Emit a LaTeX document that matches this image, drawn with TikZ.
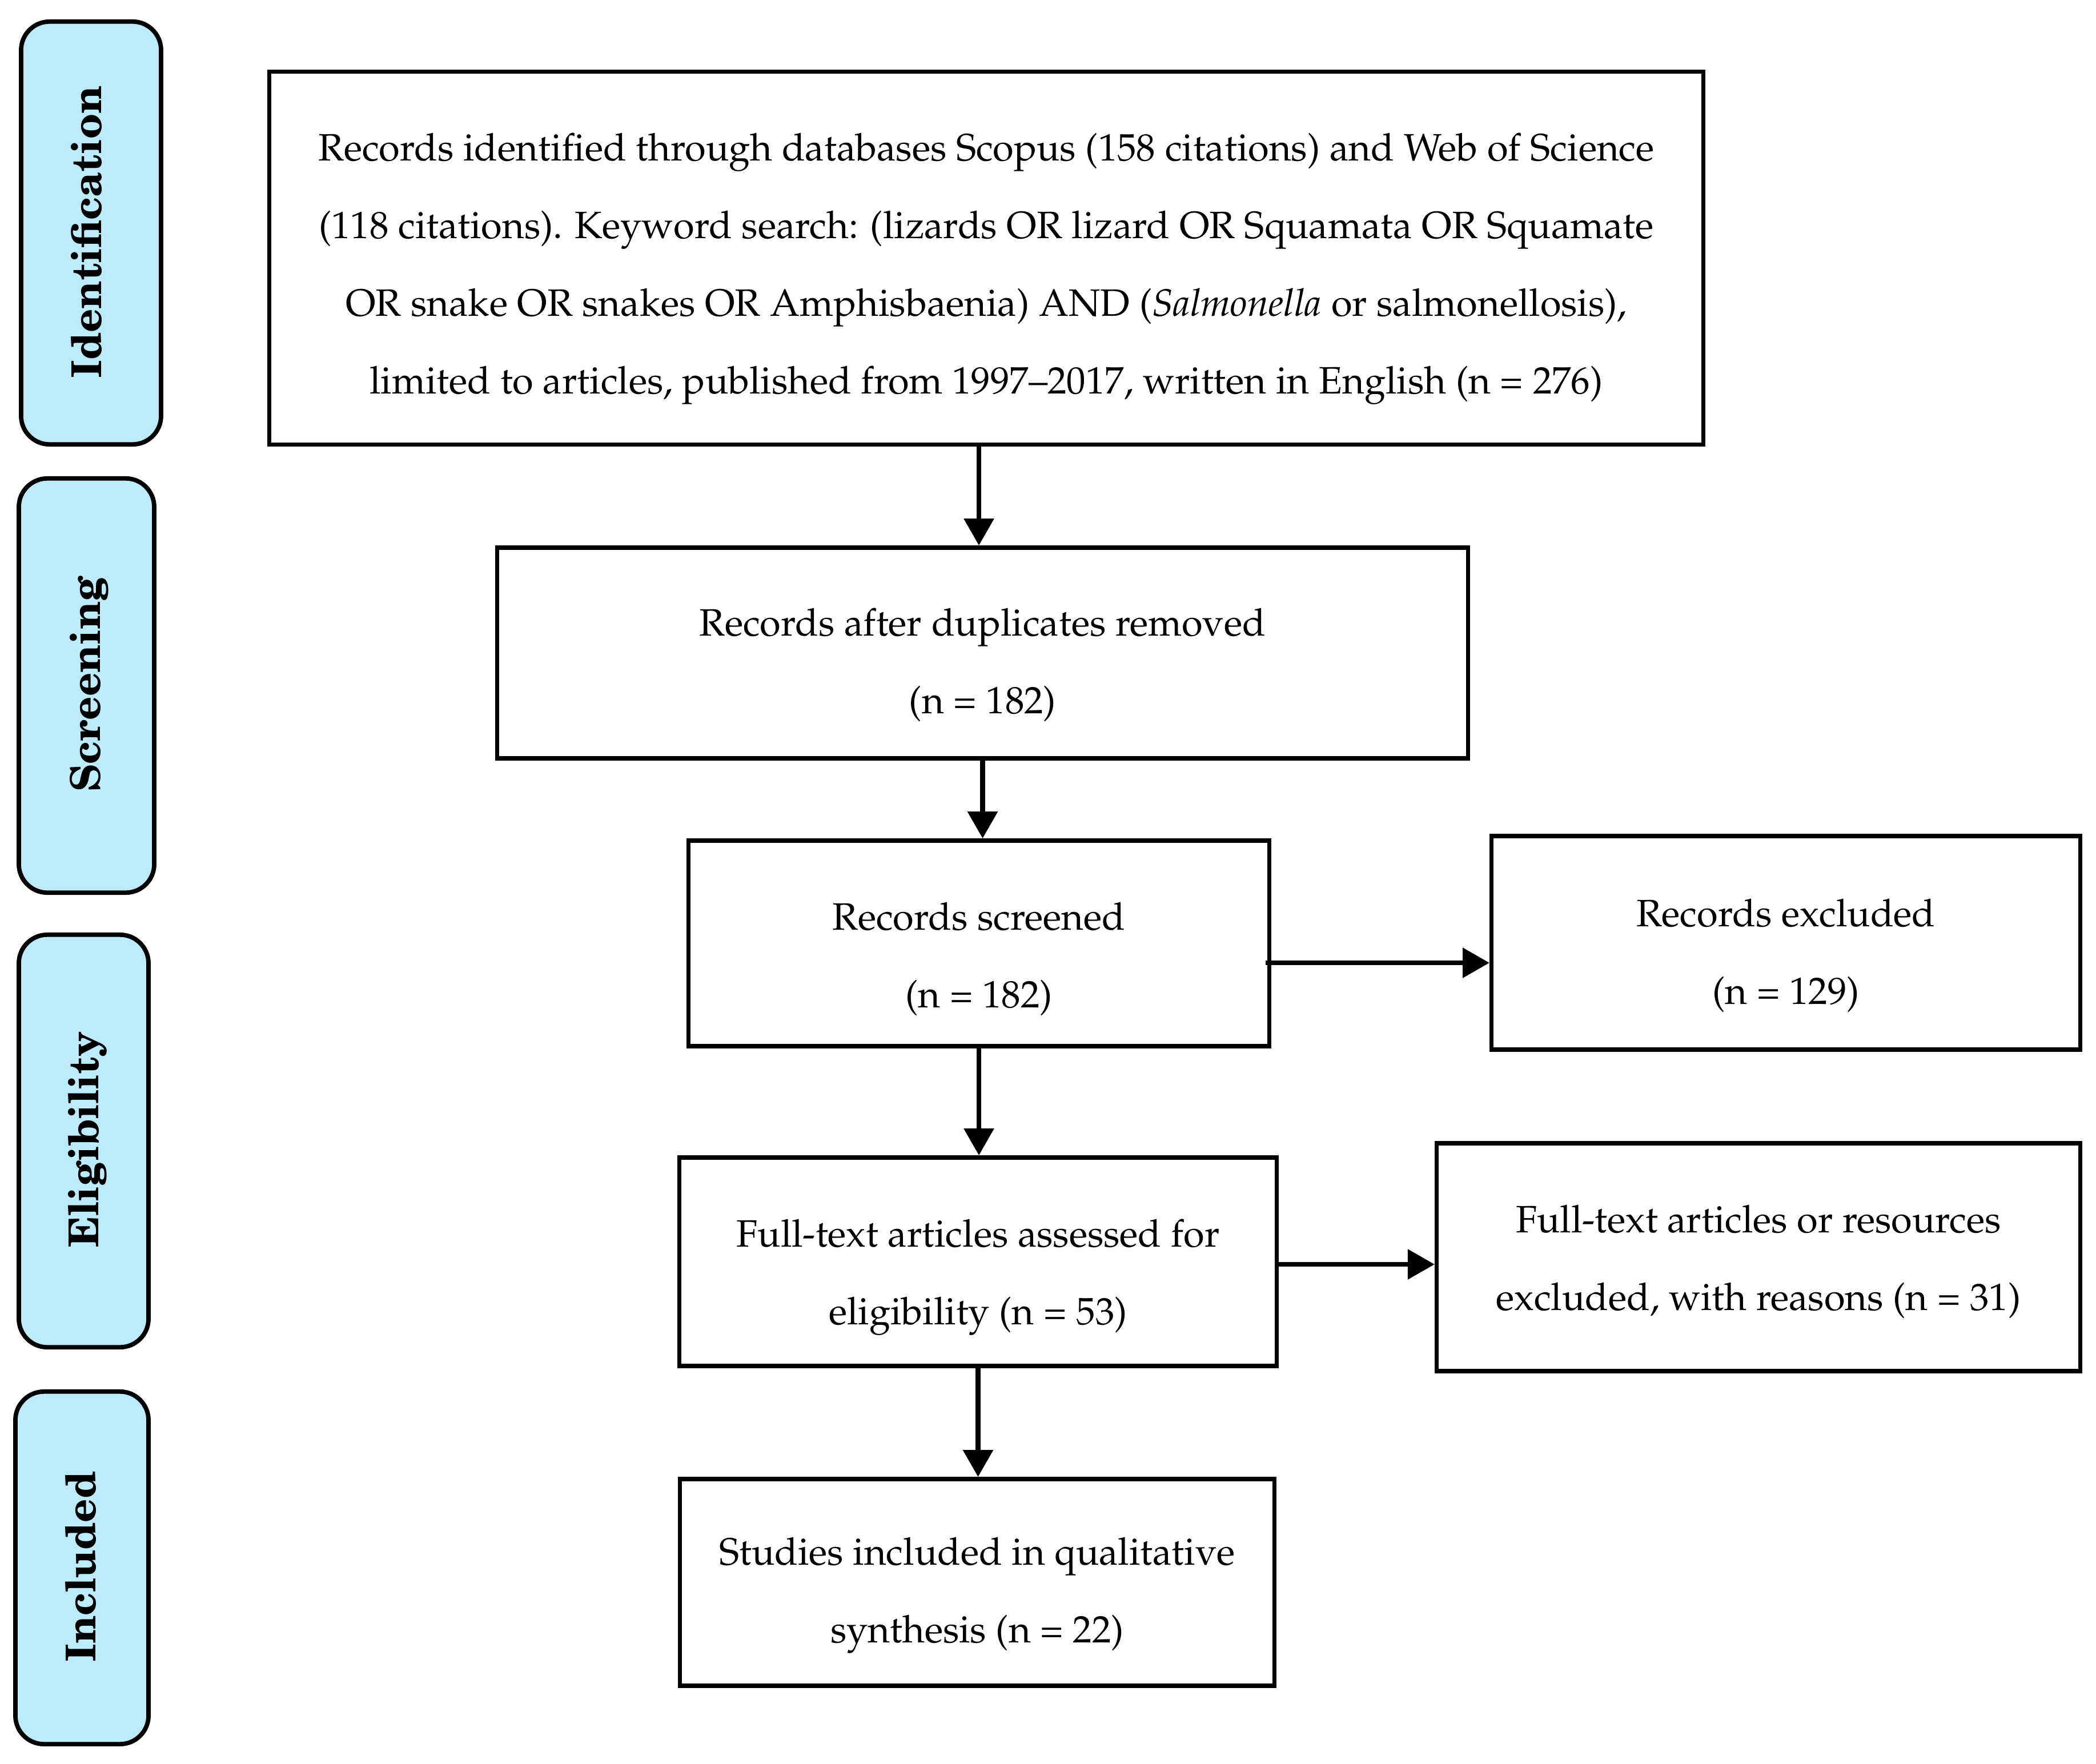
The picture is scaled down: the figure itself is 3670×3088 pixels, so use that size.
\documentclass[tikz,border=0pt]{standalone}
\usepackage[T1]{fontenc}
\usetikzlibrary{arrows.meta,calc}
\definecolor{lblue}{RGB}{190,235,252}
\tikzset{
 phase/.style={draw=black, line width=2.2pt, fill=lblue, rounded corners=0.5cm, inner sep=0pt, rectangle},
 phasetext/.style={rotate=90, anchor=base, inner sep=0pt, font=\fontfamily{pnc}\fontsize{20.5}{24}\bfseries},
 box/.style={draw=black, line width=2.1pt, inner sep=0pt, rectangle},
 btext/.style={align=center, inner sep=0pt, font=\fontfamily{ppl}\fontsize{19.0}{38.7}\selectfont},
 arr/.style={line width=2.5pt, -{Triangle[length=0.47cm,width=0.51cm]}},
}
\begin{document}
\begin{tikzpicture}[x=0.01cm,y=-0.01cm]
\useasboundingbox (0,0) rectangle (3670,3088);
% phase labels
\node[phase, minimum width=2.45cm, minimum height=7.40cm] (pI) at (159.5,408) {};
\node[phasetext] (tI) at (177,406.5) {Identification};
\node[phase, minimum width=2.37cm, minimum height=7.25cm] (pS) at (151.5,1200.5) {};
\node[phasetext] (tS) at (175,1198) {Screening};
\node[phase, minimum width=2.27cm, minimum height=7.22cm] (pE) at (146.5,1998) {};
\node[phasetext] (tE) at (172,1995.5) {Eligibility};
\node[phase, minimum width=2.33cm, minimum height=6.17cm] (pN) at (143.5,2745.5) {};
\node[phasetext] (tN) at (167,2743.5) {Included};
% boxes
\node[box, minimum width=25.10cm, minimum height=6.52cm] (B1) at (1727,452) {};
\node[btext] (T1) at ([yshift=-0.19cm]B1.center) {Records identified through databases Scopus (158 citations) and Web of Science\\(118 citations). Keyword search: (lizards OR lizard OR Squamata OR Squamate\\OR snake OR snakes OR Amphisbaenia) AND (\textit{Salmonella} or salmonellosis),\\limited to articles, published from 1997--2017, written in English (n = 276)};
\node[box, minimum width=16.99cm, minimum height=3.69cm] (B2) at (1720.5,1143.5) {};
\node[btext] (T2) at ([yshift=-0.21cm]B2.center) {Records after duplicates removed\\(n = 182)};
\node[box, minimum width=10.16cm, minimum height=3.60cm] (B3) at (1714,1652) {};
\node[btext] (T3) at ([yshift=-0.27cm]B3.center) {Records screened\\(n = 182)};
\node[box, minimum width=10.30cm, minimum height=3.74cm] (E1) at (3127,1651) {};
\node[btext] (TE1) at ([yshift=-0.22cm]E1.center) {Records excluded\\(n = 129)};
\node[box, minimum width=10.45cm, minimum height=3.65cm] (B4) at (1712.5,2209.5) {};
\node[btext] (T4) at ([yshift=-0.27cm]B4.center) {Full-text articles assessed for\\eligibility (n = 53)};
\node[box, minimum width=11.26cm, minimum height=3.99cm] (E2) at (3079,2201.5) {};
\node[btext] (TE2) at ([yshift=-0.08cm]E2.center) {Full-text articles or resources\\excluded, with reasons (n = 31)};
\node[box, minimum width=10.40cm, minimum height=3.62cm] (B5) at (1711,2771) {};
\node[btext] (T5) at ([yshift=-0.23cm]B5.center) {Studies included in qualitative\\synthesis (n = 22)};
% arrows
\draw[arr] (B1.south -| B3.north) -- (B2.north -| B3.north);
\draw[arr] (B2.south) -- (B2.south |- B3.north);
\draw[arr] ([xshift=-0.1cm,yshift=-0.34cm]B3.east) -- ([yshift=-0.34cm]B3.east -| E1.west);
\draw[arr] (B3.south) -- (B3.south |- B4.north);
\draw[arr] ([yshift=-0.045cm]B4.east) -- ([yshift=-0.045cm]B4.east -| E2.west);
\draw[arr] (B4.south) -- (B4.south |- B5.north);
\end{tikzpicture}
\end{document}
